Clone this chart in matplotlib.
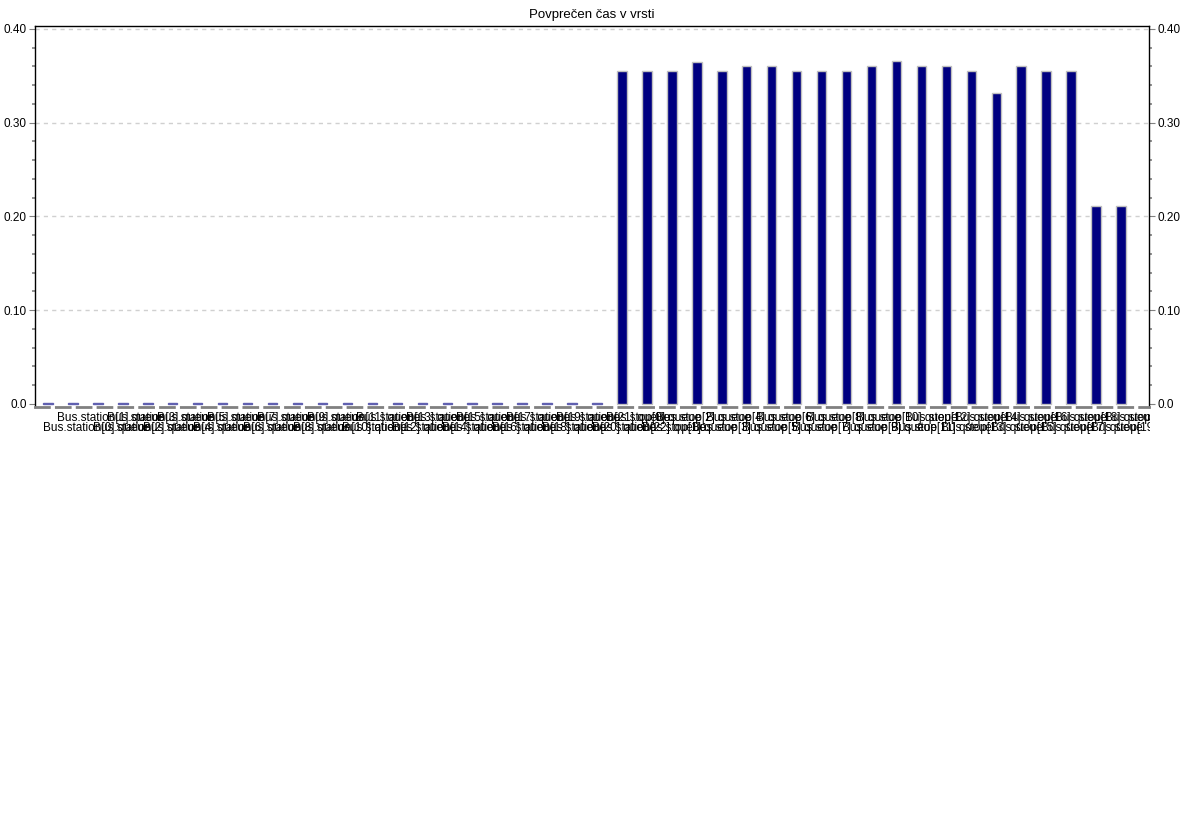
import matplotlib
matplotlib.use('Agg')
import matplotlib.pyplot as plt
from matplotlib.ticker import FixedLocator, MultipleLocator
import matplotlib.transforms as mtransforms

plt.rcParams['font.family'] = ['Liberation Sans', 'DejaVu Sans']

# imena postaj (nečitljiva v originalu - ocena)
labels = ["Bus.station[%d].queue" % i for i in range(23)] + \
         ["Bus.stop[%d].queue" % i for i in range(21)]

# povprečen čas v vrsti
zero_vals = [0.001] * 23
queue_vals = [0.355, 0.355, 0.355, 0.365, 0.355, 0.360, 0.360, 0.355, 0.355, 0.355,
              0.361, 0.366, 0.360, 0.360, 0.355, 0.332, 0.361, 0.355, 0.355, 0.211, 0.211]
values = zero_vals + queue_vals

ytick_vals = [0.0, 0.1, 0.2, 0.3, 0.4]
ytick_labels = ["0.0", "0.10", "0.20", "0.30", "0.40"]

fig = plt.figure(figsize=(11.84, 8.14), dpi=100)
ax = fig.add_axes([35/1184, 1-407/814, (1149-35)/1184, (407-26)/814])

x = list(range(len(values)))
edges = ['#c0c0c0' if v > 0.01 else '#6060b0' for v in values]
ax.bar(x, values, width=0.38, color='#000080', edgecolor=edges, linewidth=1.0, zorder=3)

ax.set_xlim(-0.52, 44.12)
ax.set_ylim(-0.0035, 0.4032)

ax.yaxis.set_major_locator(FixedLocator(ytick_vals))
ax.set_yticklabels(ytick_labels)
ax.yaxis.set_minor_locator(MultipleLocator(0.02))
ax.tick_params(axis='y', which='both', direction='out', right=True, labelright=True,
               labelsize=8.5, color='#808080', pad=2)
ax.tick_params(axis='y', which='major', length=4)
ax.tick_params(axis='y', which='minor', length=2, width=1.2)
ax.set_xticks([])

for y in ytick_vals[1:]:
    ax.axhline(y, color='#d0d0d0', linestyle=(0, (3, 3)), linewidth=1.0, zorder=1)

for s in ['left', 'right', 'top']:
    ax.spines[s].set_color('black')
    ax.spines[s].set_linewidth(1.0)
ax.spines['bottom'].set_color('#808080')
ax.spines['bottom'].set_linewidth(2)
ax.spines['bottom'].set_linestyle((0, (5, 2.5)))

ax.set_title("Povprečen čas v vrsti", fontsize=9.5, pad=6)

# nalepke na osi x - v dveh vrstah, prekrivajo se, odrezane desno
trans = mtransforms.blended_transform_factory(ax.transData, ax.transAxes)
clip = mtransforms.TransformedBbox(mtransforms.Bbox([[0, 0], [1150/1184, 1]]), fig.transFigure)
for i, lab in enumerate(labels):
    if i % 2 == 1:
        xx, yy = i - 0.64, -0.012
    else:
        xx, yy = i - 0.2, -0.04
    t = ax.text(xx, yy, lab, transform=trans, fontsize=8.5, ha='left', va='top', clip_on=True)
    t.set_clip_box(clip)

fig.savefig('out.png', dpi=100)
